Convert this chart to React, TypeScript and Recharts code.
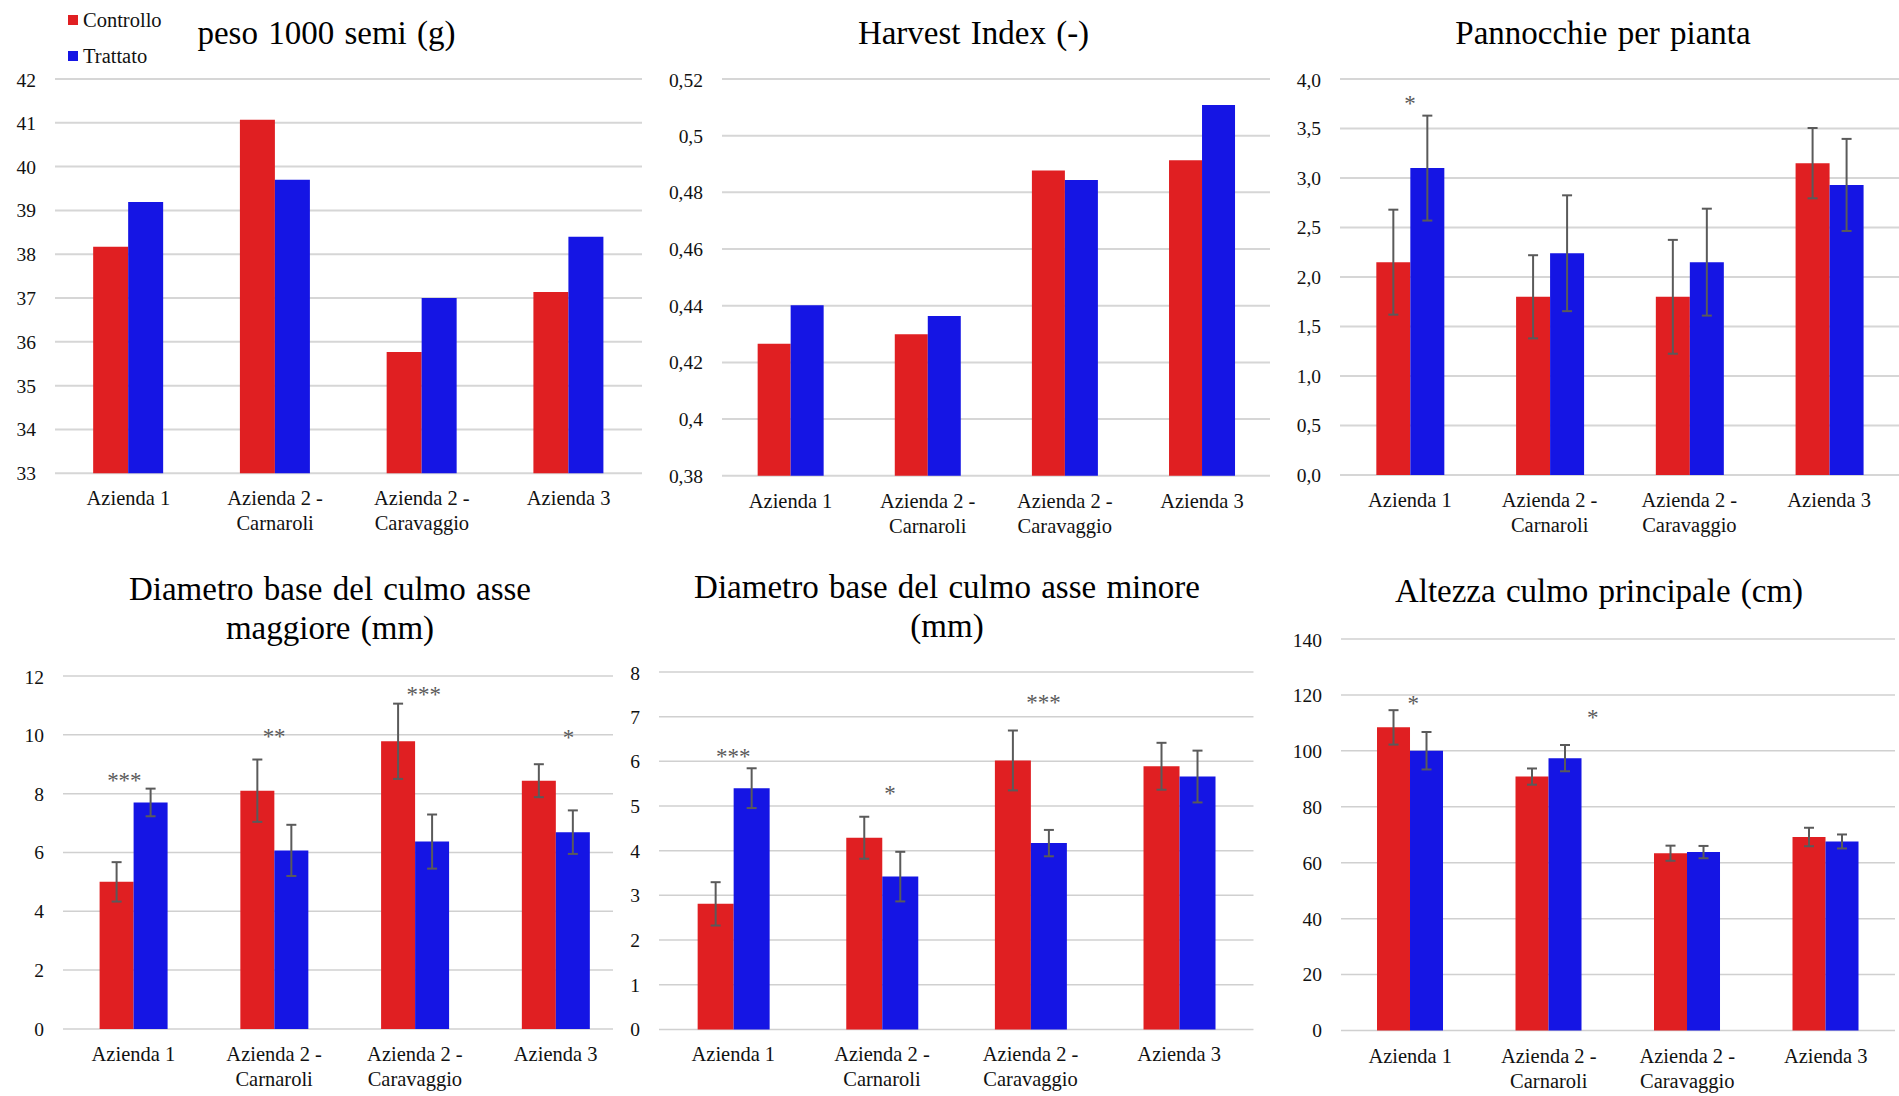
import React from "react";
import { BarChart, Bar, XAxis, YAxis, CartesianGrid, ErrorBar, ReferenceDot } from "recharts";

const FONT = '"Liberation Serif", "Times New Roman", serif';
const RED = "#e01f22";
const BLUE = "#1515e4";
const ERR = "#5a5a5a";

// categorie comuni a tutti i grafici
const categories = ["Azienda 1", "Azienda 2 -\nCarnaroli", "Azienda 2 -\nCaravaggio", "Azienda 3"];

// peso 1000 semi (g)
const pesoCtrl = [38.17, 41.07, 35.77, 37.14];
const pesoTratt = [39.19, 39.7, 37.0, 38.4];
const pesoTicks = [33, 34, 35, 36, 37, 38, 39, 40, 41, 42];

// Harvest Index (-)
const hiCtrl = [0.4266, 0.4299, 0.4877, 0.4913];
const hiTratt = [0.4402, 0.4364, 0.4844, 0.5108];
const hiTicks = [0.38, 0.4, 0.42, 0.44, 0.46, 0.48, 0.5, 0.52];

// Pannocchie per pianta
const pannCtrl = [2.15, 1.8, 1.8, 3.15];
const pannCtrlErr = [0.53, 0.42, 0.575, 0.355];
const pannTratt = [3.1, 2.24, 2.15, 2.93];
const pannTrattErr = [0.53, 0.585, 0.54, 0.465];
const pannTicks = [0, 0.5, 1, 1.5, 2, 2.5, 3, 3.5, 4];
const pannSig = ["*", "", "", ""];
const pannSigY = [3.8, 0, 0, 0];

// Diametro base del culmo asse maggiore (mm)
const dmagCtrl = [5.0, 8.1, 9.78, 8.44];
const dmagCtrlErr = [0.67, 1.06, 1.28, 0.56];
const dmagTratt = [7.7, 6.07, 6.37, 6.69];
const dmagTrattErr = [0.47, 0.87, 0.92, 0.74];
const dmagTicks = [0, 2, 4, 6, 8, 10, 12];
const dmagSig = ["***", "**", "***", "*"];
const dmagSigY = [8.6, 10.1, 11.52, 10.05];

// Diametro base del culmo asse minore (mm)
const dminCtrl = [2.81, 4.29, 6.02, 5.89];
const dminCtrlErr = [0.485, 0.47, 0.67, 0.525];
const dminTratt = [5.4, 3.42, 4.17, 5.66];
const dminTrattErr = [0.445, 0.555, 0.295, 0.58];
const dminTicks = [0, 1, 2, 3, 4, 5, 6, 7, 8];
const dminSig = ["***", "*", "***", ""];
const dminSigY = [6.21, 5.38, 7.41, 0];

// Altezza culmo principale (cm)
const altCtrl = [108.4, 90.8, 63.4, 69.2];
const altCtrlErr = [6.15, 2.9, 2.7, 3.3];
const altTratt = [100.05, 97.4, 63.8, 67.6];
const altTrattErr = [6.7, 4.7, 2.2, 2.5];
const altTicks = [0, 20, 40, 60, 80, 100, 120, 140];
const altSig = ["*", "*", "", ""];
const altSigY = [118.4, 113.4, 0, 0];

const build = (ctrl: number[], tratt: number[], ctrlErr?: number[], trattErr?: number[]) =>
  categories.map((name, i) => ({
    name,
    ctrl: ctrl[i],
    tratt: tratt[i],
    ctrlErr: ctrlErr ? ctrlErr[i] : undefined,
    trattErr: trattErr ? trattErr[i] : undefined,
  }));

const comma = (v: number) => String(Math.round(v * 100) / 100).replace(".", ",");
const comma1 = (v: number) => v.toFixed(1).replace(".", ",");

function CatTick(props: any) {
  const { x, y, payload } = props;
  const lines = String(payload.value).split("\n");
  return (
    <text x={x} y={y} textAnchor="middle" fontSize={20.5} fill="#111" fontFamily={FONT}>
      {lines.map((l, i) => (
        <tspan key={i} x={x} dy={i === 0 ? 32 : 25}>
          {l}
        </tspan>
      ))}
    </text>
  );
}

interface PanelProps {
  data: any[];
  domain: [number, number];
  ticks: number[];
  fmt?: (v: number) => string;
  box: { x0: number; x1: number; y0: number; y1: number; yw?: number };
  errors?: boolean;
  sig?: string[];
  sigY?: number[];
  sigDx?: number[];
  grid?: { stroke: string; width: number };
  bg?: string;
}

function Panel({ data, domain, ticks, fmt, box, errors, sig, sigY, sigDx, grid, bg }: PanelProps) {
  const yw = box.yw ?? 60;
  const left = box.x0 - yw;
  const top = box.y0 - 10;
  const width = box.x1 - left;
  const height = box.y1 - top + 70;
  const g = grid ?? { stroke: "#d6d6d6", width: 2 };
  return (
    <div style={{ position: "absolute", left, top, width, height, background: bg ?? "transparent" }}>
      <BarChart
        width={width}
        height={height}
        data={data}
        margin={{ top: 10, right: 0, bottom: 0, left: 0 }}
        barCategoryGap="26%"
        barGap={0}
      >
        <CartesianGrid vertical={false} stroke={g.stroke} strokeWidth={g.width} />
        <XAxis
          dataKey="name"
          axisLine={false}
          tickLine={false}
          tickSize={0}
          tickMargin={0}
          interval={0}
          height={70}
          tick={<CatTick />}
        />
        <YAxis
          type="number"
          domain={domain}
          ticks={ticks}
          tickFormatter={fmt}
          axisLine={false}
          tickLine={false}
          tickSize={0}
          tickMargin={19}
          width={yw}
          tick={{ fontSize: 19.5, fill: "#111", fontFamily: FONT }}
        />
        <Bar dataKey="ctrl" fill={RED} isAnimationActive={false}>
          {errors && (
            <ErrorBar dataKey="ctrlErr" direction="y" width={5} stroke={ERR} strokeWidth={2} isAnimationActive={false} />
          )}
        </Bar>
        <Bar dataKey="tratt" fill={BLUE} isAnimationActive={false}>
          {errors && (
            <ErrorBar dataKey="trattErr" direction="y" width={5} stroke={ERR} strokeWidth={2} isAnimationActive={false} />
          )}
        </Bar>
        {sig &&
          sigY &&
          sig.map((s, i) =>
            s ? (
              <ReferenceDot
                key={i}
                x={categories[i]}
                y={sigY[i]}
                r={0}
                shape={(p: any) => (
                  <text
                    x={p.cx + (sigDx ? sigDx[i] : 0)}
                    y={p.cy + 12}
                    textAnchor="middle"
                    fontSize={23}
                    fill={ERR}
                    fontFamily={FONT}
                  >
                    {s}
                  </text>
                )}
              />
            ) : null
          )}
      </BarChart>
    </div>
  );
}

function Title({ cx, cy, lines }: { cx: number; cy: number; lines: string[] }) {
  return (
    <div
      style={{
        position: "absolute",
        left: cx,
        top: cy,
        transform: "translate(-50%, -50%)",
        fontFamily: FONT,
        fontSize: 33,
        lineHeight: "39px",
        wordSpacing: 2,
        textAlign: "center",
        whiteSpace: "nowrap",
        color: "#000",
      }}
    >
      {lines.map((l, i) => (
        <div key={i}>{l}</div>
      ))}
    </div>
  );
}

export default function App() {
  const bottomGrid = { stroke: "#d0d0d0", width: 1.5 };
  return (
    <div
      style={{
        position: "absolute",
        left: 0,
        top: 0,
        width: 1899,
        height: 1096,
        background: "#fff",
        overflow: "hidden",
        fontFamily: FONT,
      }}
    >
      {/* riga superiore */}
      <Panel
        data={build(pesoCtrl, pesoTratt)}
        domain={[33, 42]}
        ticks={pesoTicks}
        box={{ x0: 54.5, x1: 641.5, y0: 79.2, y1: 473.5 }}
      />
      <Panel
        data={build(hiCtrl, hiTratt)}
        domain={[0.38, 0.52]}
        ticks={hiTicks}
        fmt={comma}
        box={{ x0: 721.5, x1: 1270, y0: 79.2, y1: 476 }}
      />
      <Panel
        data={build(pannCtrl, pannTratt, pannCtrlErr, pannTrattErr)}
        domain={[0, 4]}
        ticks={pannTicks}
        fmt={comma1}
        box={{ x0: 1340, x1: 1899, y0: 79.2, y1: 475.2 }}
        errors
        sig={pannSig}
        sigY={pannSigY}
      />

      {/* riga inferiore */}
      <Panel
        data={build(dmagCtrl, dmagTratt, dmagCtrlErr, dmagTrattErr)}
        domain={[0, 12]}
        ticks={dmagTicks}
        box={{ x0: 63, x1: 626, y0: 675.8, y1: 1028.7 }}
        errors
        sig={dmagSig}
        sigY={dmagSigY}
        sigDx={[-9, 0, 9, 13]}
        grid={bottomGrid}
      />
      <Panel
        data={build(dminCtrl, dminTratt, dminCtrlErr, dminTrattErr)}
        domain={[0, 8]}
        ticks={dminTicks}
        box={{ x0: 659, x1: 1253.5, y0: 672.3, y1: 1029.7, yw: 46 }}
        errors
        sig={dminSig}
        sigY={dminSigY}
        sigDx={[0, 8, 13, 0]}
        grid={bottomGrid}
        bg="#fff"
      />
      <Panel
        data={build(altCtrl, altTratt, altCtrlErr, altTrattErr)}
        domain={[0, 140]}
        ticks={altTicks}
        box={{ x0: 1340.5, x1: 1894.5, y0: 639.3, y1: 1030.8 }}
        errors
        sig={altSig}
        sigY={altSigY}
        sigDx={[3, 44, 0, 0]}
        grid={bottomGrid}
      />

      <Title cx={326.5} cy={32.7} lines={["peso 1000 semi (g)"]} />
      <Title cx={973.5} cy={32.7} lines={["Harvest Index (-)"]} />
      <Title cx={1603} cy={32.7} lines={["Pannocchie per pianta"]} />
      <Title cx={330} cy={608.5} lines={["Diametro base del culmo asse", "maggiore (mm)"]} />
      <Title cx={947} cy={607} lines={["Diametro base del culmo asse minore", "(mm)"]} />
      <Title cx={1599} cy={591} lines={["Altezza culmo principale (cm)"]} />

      {/* legenda */}
      <div style={{ position: "absolute", left: 68, top: 8, fontSize: 20.5, lineHeight: "24px", color: "#111" }}>
        <div style={{ display: "flex", alignItems: "center", height: 24 }}>
          <span style={{ width: 10, height: 10, background: RED, marginRight: 5, display: "inline-block" }} />
          Controllo
        </div>
        <div style={{ display: "flex", alignItems: "center", height: 24, marginTop: 12 }}>
          <span style={{ width: 10, height: 10, background: BLUE, marginRight: 5, display: "inline-block" }} />
          Trattato
        </div>
      </div>
    </div>
  );
}
